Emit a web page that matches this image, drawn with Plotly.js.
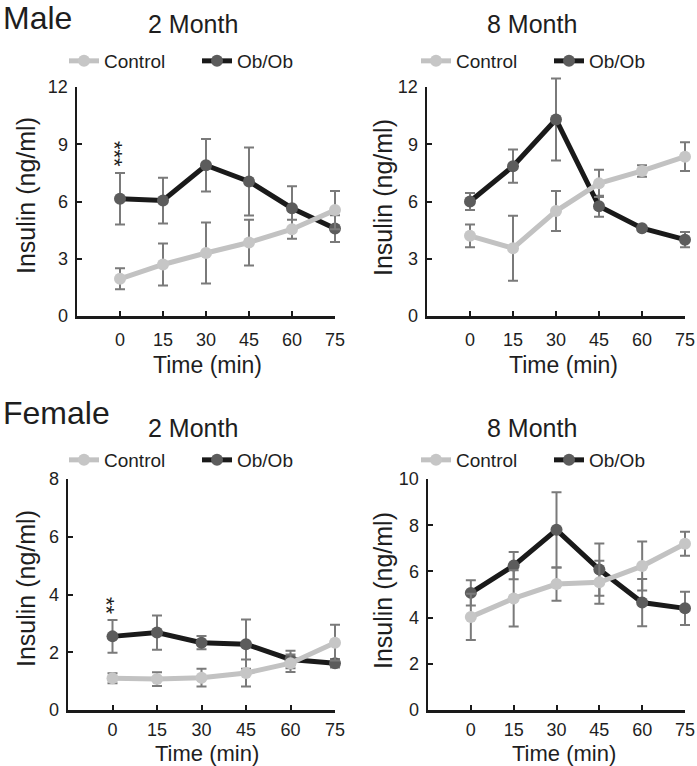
<!DOCTYPE html>
<html>
<head>
<meta charset="utf-8">
<script src="https://cdn.plot.ly/plotly-3.0.1.min.js"></script>
<style>html,body{margin:0;padding:0;background:#fff;}#chart{width:697px;height:766px;}</style>
</head>
<body>
<div id="chart"></div>
<script>
// ---------- data ----------
const timeMin = [0, 15, 30, 45, 60, 75];
const xTickLabels = ['0', '15', '30', '45', '60', '75'];
const seriesNames = ['Control', 'Ob/Ob'];

// Male, 2 Month
const male2Control    = [1.95, 2.7, 3.3, 3.85, 4.55, 5.55];
const male2ControlErr = [0.55, 1.1, 1.6, 1.2, 0.5, 1.0];
const male2Ob         = [6.15, 6.05, 7.9, 7.05, 5.65, 4.58];
const male2ObErr      = [1.35, 1.2, 1.38, 1.78, 1.15, 0.7];
// Male, 8 Month
const male8Control    = [4.2, 3.55, 5.5, 6.95, 7.6, 8.35];
const male8ControlErr = [0.6, 1.7, 1.05, 0.72, 0.3, 0.75];
const male8Ob         = [6.0, 7.85, 10.3, 5.75, 4.6, 4.0];
const male8ObErr      = [0.45, 0.87, 2.15, 0.55, 0.1, 0.4];
// Female, 2 Month
const female2Control    = [1.1, 1.07, 1.12, 1.28, 1.62, 2.33];
const female2ControlErr = [0.17, 0.24, 0.31, 0.47, 0.3, 0.62];
const female2Ob         = [2.55, 2.68, 2.33, 2.28, 1.75, 1.62];
const female2ObErr      = [0.57, 0.59, 0.23, 0.85, 0.3, 0.15];
// Female, 8 Month
const female8Control    = [4.03, 4.83, 5.45, 5.53, 6.23, 7.2];
const female8ControlErr = [1.0, 1.22, 0.72, 0.93, 1.06, 0.52];
const female8Ob         = [5.07, 6.25, 7.8, 6.08, 4.65, 4.4];
const female8ObErr      = [0.55, 0.59, 1.63, 1.13, 1.02, 0.72];

// y tick values per panel
const yTicksMale = [0, 3, 6, 9, 12];
const yTicksFemale2 = [0, 2, 4, 6, 8];
const yTicksFemale8 = [0, 2, 4, 6, 8, 10];

// significance marks (at time 0)
const male2Sig = '***';
const female2Sig = '**';

// ---------- layout helpers ----------
const W = 697, H = 766;
const px = x => x / W;
const py = y => 1 - y / H;
const FONT = 'Liberation Sans, Arial, Helvetica, sans-serif';
const TXT = '#1e1e1e';
const XR = [-15, 75];

const panels = [
  {n: 1, ctrl: male2Control, ctrlE: male2ControlErr, ob: male2Ob, obE: male2ObErr,
   xd: [77, 335], yd: [87, 316], yr: [0, 12], yt: yTicksMale, leg: 'legend', legX: 64, legY: 61,
   title: '2 Month', tx: 193, ty: 24, xtx: 207, xty: 365, xts: 23, ytx: 26, yty: 196, tso: 6},
  {n: 2, ctrl: male8Control, ctrlE: male8ControlErr, ob: male8Ob, obE: male8ObErr,
   xd: [427, 685], yd: [87, 316], yr: [0, 12], yt: yTicksMale, leg: 'legend2', legX: 416, legY: 61,
   title: '8 Month', tx: 532, ty: 24, xtx: 563, xty: 365, xts: 23, ytx: 383, yty: 197, tso: 6},
  {n: 3, ctrl: female2Control, ctrlE: female2ControlErr, ob: female2Ob, obE: female2ObErr,
   xd: [68, 335], yd: [479, 710], yr: [0, 8], yt: yTicksFemale2, leg: 'legend3', legX: 64, legY: 460,
   title: '2 Month', tx: 193, ty: 428, xtx: 207, xty: 753, xts: 22, ytx: 26, yty: 589, tso: 2},
  {n: 4, ctrl: female8Control, ctrlE: female8ControlErr, ob: female8Ob, obE: female8ObErr,
   xd: [428, 685], yd: [479, 710], yr: [0, 10], yt: yTicksFemale8, leg: 'legend4', legX: 416, legY: 460,
   title: '8 Month', tx: 532, ty: 428, xtx: 564, xty: 753, xts: 22, ytx: 383, yty: 590, tso: 2}
];

const traces = [];
const layout = {
  width: W, height: H,
  margin: {l: 0, r: 0, t: 0, b: 0},
  paper_bgcolor: '#ffffff', plot_bgcolor: 'rgba(0,0,0,0)',
  font: {family: FONT, color: TXT, size: 18},
  showlegend: true,
  annotations: []
};

panels.forEach(p => {
  const sfx = p.n === 1 ? '' : String(p.n);
  const xa = 'x' + sfx, ya = 'y' + sfx;
  // hidden twin axes with the same scale but a slightly larger area, so that
  // error bars and markers reaching past the axis ends are not clipped
  const hx = p.n + 4, hy = p.n + 4;
  const pxPerX = (p.xd[1] - p.xd[0]) / (XR[1] - XR[0]);
  const pxPerY = (p.yd[1] - p.yd[0]) / (p.yr[1] - p.yr[0]);
  const extR = 12, extT = 24;

  // visible axes
  layout['xaxis' + sfx] = {
    domain: [px(p.xd[0]), px(p.xd[1])], anchor: ya, range: XR,
    tickvals: timeMin, ticktext: xTickLabels, ticks: 'inside', ticklen: 5, tickwidth: 2,
    tickcolor: '#1a1a1a', showline: true, linecolor: '#1a1a1a', linewidth: 2.5,
    showgrid: false, zeroline: false, tickfont: {size: 18, color: TXT}, ticklabelstandoff: p.tso,
    fixedrange: true
  };
  layout['yaxis' + sfx] = {
    domain: [py(p.yd[1]), py(p.yd[0])], anchor: xa, range: p.yr,
    tickvals: p.yt, ticks: 'inside', ticklen: 5, tickwidth: 2,
    tickcolor: '#1a1a1a', showline: true, linecolor: '#1a1a1a', linewidth: 2.5,
    showgrid: false, zeroline: false, tickfont: {size: 18, color: TXT}, ticklabelstandoff: 3,
    fixedrange: true
  };
  // hidden data axes
  layout['xaxis' + hx] = {
    domain: [px(p.xd[0]), px(p.xd[1] + extR)], anchor: 'y' + hy,
    range: [XR[0], XR[1] + extR / pxPerX], visible: false, fixedrange: true
  };
  layout['yaxis' + hy] = {
    domain: [py(p.yd[1]), py(p.yd[0] - extT)], anchor: 'x' + hx,
    range: [p.yr[0], p.yr[1] + extT / pxPerY], visible: false, fixedrange: true
  };

  // empty trace that ties the visible axes to a subplot
  traces.push({x: [], y: [], xaxis: xa, yaxis: ya, type: 'scatter', mode: 'lines',
               showlegend: false, hoverinfo: 'skip'});

  const common = {x: timeMin, xaxis: 'x' + hx, yaxis: 'y' + hy, mode: 'lines+markers', legend: p.leg,
                  cliponaxis: false, hoverinfo: 'x+y'};
  traces.push(Object.assign({}, common, {
    name: seriesNames[1], y: p.ob, legendrank: 2,
    line: {color: '#1a1a1a', width: 5},
    marker: {color: '#5c5c5c', size: 12},
    error_y: {type: 'data', array: p.obE, visible: true, color: '#7a7a7a', thickness: 2, width: 5}
  }));
  traces.push(Object.assign({}, common, {
    name: seriesNames[0], y: p.ctrl, legendrank: 1,
    line: {color: '#c2c2c2', width: 5},
    marker: {color: '#c6c6c6', size: 12},
    error_y: {type: 'data', array: p.ctrlE, visible: true, color: '#7a7a7a', thickness: 2, width: 5}
  }));

  layout[p.leg] = {
    x: px(p.legX), y: py(p.legY), xanchor: 'left', yanchor: 'middle', xref: 'paper', yref: 'paper',
    orientation: 'h', bgcolor: 'rgba(0,0,0,0)', font: {size: 19, color: TXT, family: FONT},
    itemwidth: 30, entrywidth: 88, entrywidthmode: 'pixels', tracegroupgap: 0
  };
  layout.annotations.push(
    {text: p.title, x: px(p.tx), y: py(p.ty), xref: 'paper', yref: 'paper', xanchor: 'center', yanchor: 'middle',
     showarrow: false, font: {size: 25, color: TXT, family: FONT}},
    {text: 'Time (min)', x: px(p.xtx), y: py(p.xty), xref: 'paper', yref: 'paper', xanchor: 'center', yanchor: 'middle',
     showarrow: false, font: {size: p.xts, color: TXT, family: FONT}},
    {text: 'Insulin (ng/ml)', x: px(p.ytx), y: py(p.yty), xref: 'paper', yref: 'paper', xanchor: 'center', yanchor: 'middle',
     textangle: -90, showarrow: false, font: {size: 25, color: TXT, family: FONT}}
  );
});

// significance asterisks, stacked vertically above the Ob/Ob error bar at time 0
function addSig(marks, sfx, obVals, obErr) {
  layout.annotations.push({
    text: marks, x: timeMin[0], y: obVals[0] + obErr[0], xref: 'x' + sfx, yref: 'y' + sfx,
    xanchor: 'center', yanchor: 'middle', textangle: 90,
    yshift: 10 + (marks.length - 1) * 4.5, xshift: -6, showarrow: false,
    font: {size: 22, color: TXT, family: FONT}
  });
}
addSig(male2Sig, '', male2Ob, male2ObErr);
addSig(female2Sig, '3', female2Ob, female2ObErr);

// group labels
layout.annotations.push(
  {text: 'Male', x: px(1), y: py(18), xref: 'paper', yref: 'paper', xanchor: 'left', yanchor: 'middle',
   showarrow: false, font: {size: 32, color: TXT, family: FONT}},
  {text: 'Female', x: px(1), y: py(413), xref: 'paper', yref: 'paper', xanchor: 'left', yanchor: 'middle',
   showarrow: false, font: {size: 32, color: TXT, family: FONT}}
);

Plotly.newPlot('chart', traces, layout, {displayModeBar: false, staticPlot: true});
</script>
</body>
</html>
